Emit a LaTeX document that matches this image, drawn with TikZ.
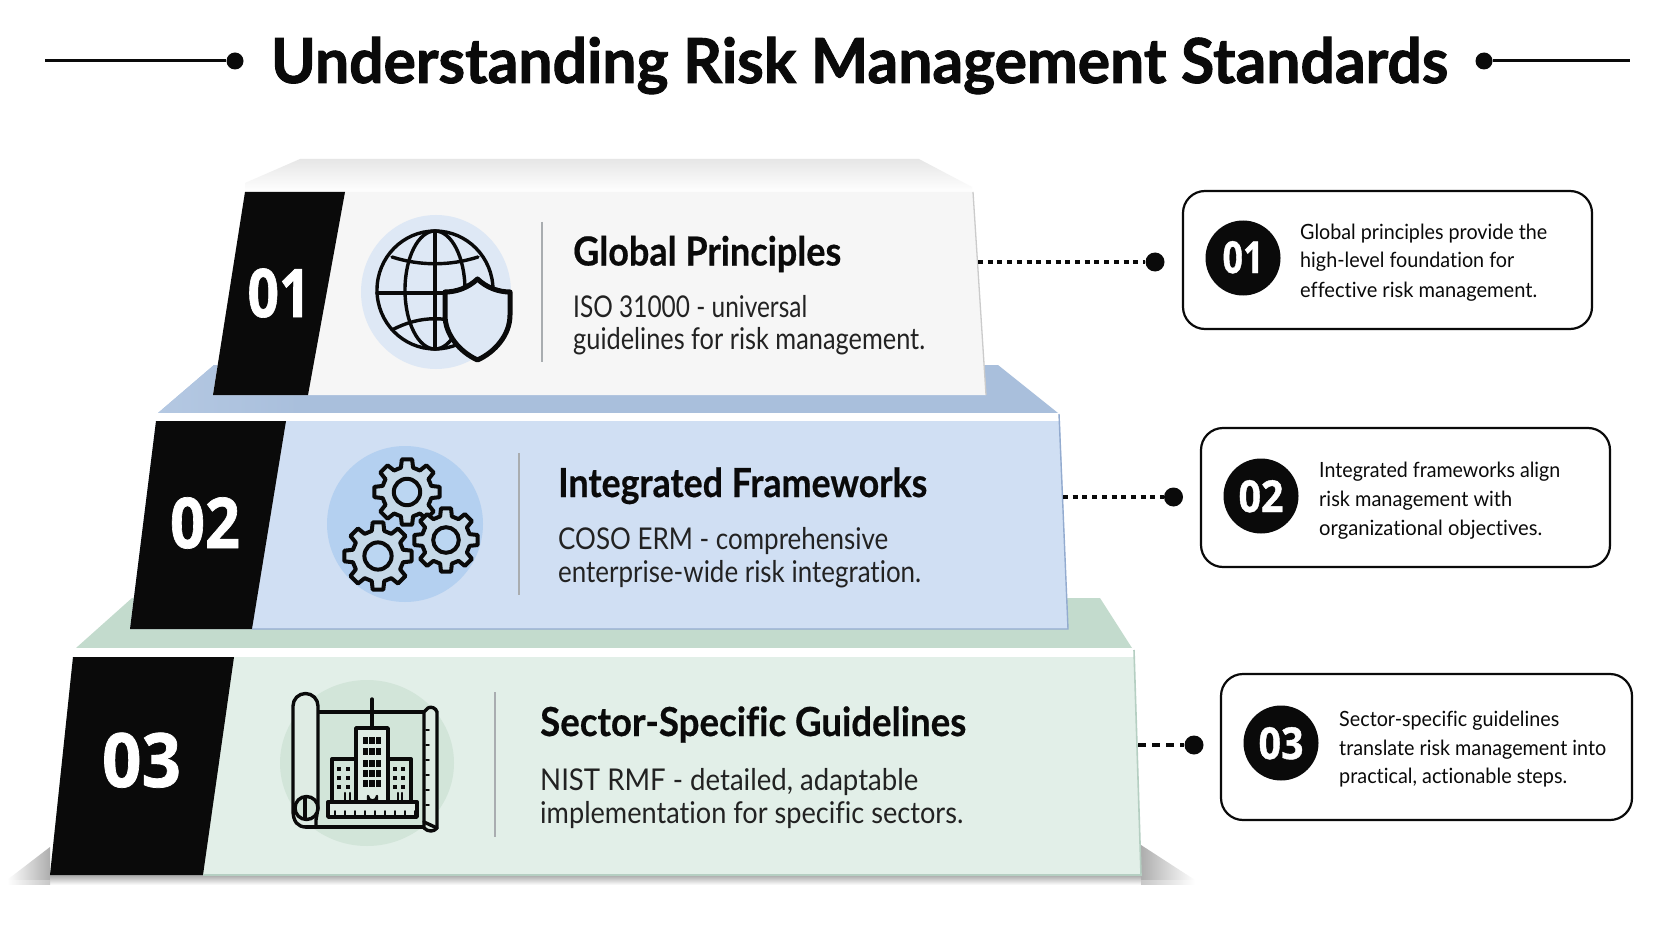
\documentclass[tikz,border=0pt]{standalone}
\usepackage{graphicx}
\usepackage{fontspec}
\setmainfont{Lato}[Ligatures=NoCommon,BoldFeatures={FakeBold=0.5}]
\newfontfamily\titlef{Lato}[Ligatures=NoCommon,BoldFeatures={FakeBold=1.5}]
\newfontfamily\numf{Open Sans}[BoldFeatures={FakeBold=1}]
\usetikzlibrary{calc}
\definecolor{ink}{HTML}{0A0A0A}
\definecolor{rulegray}{HTML}{A9ADB0}
\definecolor{whitefront}{HTML}{F6F6F6}
\definecolor{whitetop}{HTML}{E6E6E6}
\definecolor{whiteedge}{HTML}{CBCBCB}
\definecolor{bluefront}{HTML}{D0DFF3}
\definecolor{bluetop}{HTML}{A9BFDC}
\definecolor{bluetopb}{HTML}{B4C8E2}
\definecolor{blueedge}{HTML}{93ABCF}
\definecolor{greenfront}{HTML}{E2EFE8}
\definecolor{greentop}{HTML}{C3DBCD}
\definecolor{greentopb}{HTML}{C9DFD2}
\definecolor{greenedge}{HTML}{B5CFC2}
\definecolor{globedisc}{HTML}{DEE8F5}
\definecolor{geardisc}{HTML}{B4D0F0}
\definecolor{plandisc}{HTML}{D2E5D9}
\definecolor{planlight}{HTML}{DFECE4}
\definecolor{gearfill}{HTML}{C6D9E8}
\definecolor{gearhub}{HTML}{BBD6F2}
\newcommand{\fitw}[2]{\resizebox{#1pt}{\height}{#2}}
\newcommand{\gearico}[3]{%
 \draw[gearline] ({#1+(#3*.76)*cos(-14)},{#2+(#3*.76)*sin(-14)})
  \foreach \a in {0,45,...,315}{
   -- ({#1+(#3*.76)*cos(\a-14)},{#2+(#3*.76)*sin(\a-14)})
   -- ({#1+#3*cos(\a-9)},{#2+#3*sin(\a-9)})
   -- ({#1+#3*cos(\a+9)},{#2+#3*sin(\a+9)})
   -- ({#1+(#3*.76)*cos(\a+14)},{#2+(#3*.76)*sin(\a+14)})
  } -- cycle;
 \draw[gearline,fill=gearhub] (#1,#2) circle ({#3*.40});
}
\tikzset{
 gearline/.style={draw=ink,line width=4pt,line join=round,fill=gearfill},
 icon/.style={draw=ink,line width=3.4pt,line join=round,line cap=round},
 heading/.style={anchor=base west,inner sep=0pt,font=\fontsize{40}{40}\selectfont\bfseries,text=ink},
 bodytx/.style={anchor=base west,inner sep=0pt,font=\fontsize{30}{30}\selectfont,text=ink!90!white},
 cardtx/.style={anchor=base west,inner sep=0pt,font=\fontsize{21}{21}\selectfont,text=ink},
 bandnum/.style={anchor=base,inner sep=0pt,text=white},
 badgenum/.style={anchor=base,inner sep=0pt,text=white,font=\numf\bfseries\fontsize{44}{44}\selectfont},
 badge/.style={circle,fill=ink,minimum size=75pt,inner sep=0pt},
 card/.style={draw=ink,line width=2.2pt,rounded corners=22pt,fill=white},
 enddot/.style={circle,fill=ink,minimum size=19pt,inner sep=0pt},
 dotted link/.style={draw=ink,line width=3.6pt,dash pattern=on 5pt off 4.7pt},
 dashed link/.style={draw=ink,line width=3.6pt,dash pattern=on 8pt off 6pt},
 divider/.style={draw=rulegray,line width=1.6pt},
 band/.style={fill=ink},
 strip/.style={fill=white},
}
\begin{document}
\begin{tikzpicture}[x=1pt,y=-1pt]
\useasboundingbox (0,0) rectangle (1672,941);
\fill[white] (0,0) rectangle (1672,941);

% title
\node[inner sep=0pt,anchor=base,font=\titlef\fontsize{62}{62}\selectfont\bfseries,text=ink] (title) at (859.5,83) {\fitw{1177}{Understanding Risk Management Standards}};
\node[circle,fill=ink,minimum size=17pt,inner sep=0pt] (tdl) at (235,61) {};
\node[circle,fill=ink,minimum size=17pt,inner sep=0pt] (tdr) at (1484,61) {};
\coordinate (tll) at (45,61);
\coordinate (tlr) at (1630,61);
\draw[ink,line width=3pt] (tll) -- (tdl);
\draw[ink,line width=3pt] (tdr) -- (tlr);

% base shadow
\shade[left color=white,right color=black!32] (7,880) -- (50,847) -- (50,880) -- cycle;
\shade[left color=black!32,right color=white] (1141,845) -- (1195,880) -- (1141,880) -- cycle;
\shade[top color=black!34,bottom color=white] (50,875) rectangle (1141,885);
\shade[left color=white,right color=black!22] (7,880) rectangle (50,884);
\shade[left color=black!22,right color=white] (1141,880) rectangle (1195,884);

% tier 3
\fill[greentop] (132,598) -- (1100,598) -- (1132,648) -- (76,648) -- cycle;
\fill[strip] (76,648) -- (1132,648) -- (1134,657) -- (73,657) -- cycle;
\fill[greenfront] (73,657) -- (1134,657) -- (1141,875) -- (50,875) -- cycle;
\fill[band] (73,657) -- (234,657) -- (203,875) -- (50,875) -- cycle;
\draw[greenedge,line width=1.6pt] (1134,650) -- (1141,875) -- (203,875);

% tier 2
\fill[bluetop] (214,365) -- (998,365) -- (1058,413) -- (158,413) -- cycle;
\shade[left color=bluetopb,right color=bluetop] (214,365) -- (300,365) -- (300,413) -- (158,413) -- cycle;
\fill[strip] (158,413) -- (1058,413) -- (1060,421) -- (156,421) -- cycle;
\fill[bluefront] (156,421) -- (1060,421) -- (1068,629) -- (130,629) -- cycle;
\fill[band] (156,421) -- (286,421) -- (252,629) -- (130,629) -- cycle;
\draw[blueedge,line width=1.4pt] (1059,414) -- (1068,629) -- (252,629);

% tier 1
\shade[top color=whitetop,bottom color=white] (300,159) -- (919,159) -- (972,187) -- (972,192) -- (245,192) -- (245,183) -- cycle;
\fill[whitefront] (245,192) -- (973,192) -- (986,395) -- (213,395) -- cycle;
\fill[band] (245,192) -- (345,192) -- (308,395) -- (213,395) -- cycle;
\draw[whiteedge,line width=1.3pt] (973,192) -- (986,395);

% band numbers
\node[bandnum,font=\numf\bfseries\fontsize{67}{67}\selectfont] (n1) at (279,317) {\fitw{63}{01}};
\node[bandnum,font=\numf\bfseries\fontsize{70}{70}\selectfont] (n2) at (205,548) {\fitw{70}{02}};
\node[bandnum,font=\numf\bfseries\fontsize{75}{75}\selectfont] (n3) at (141.5,787) {\fitw{79}{03}};

% dividers
\draw[divider] (542,222) -- (542,362);
\draw[divider] (519,453) -- (519,595);
\draw[divider] (495,692) -- (495,837);

% tier texts
\node[heading] (h1) at (573,265.5) {\fitw{268}{Global Principles}};
\node[bodytx] (b1a) at (573,317) {\fitw{234}{ISO 31000 - universal}};
\node[bodytx] (b1b) at (573,349) {\fitw{352}{guidelines for risk management.}};
\node[heading] (h2) at (558,497) {\fitw{369}{Integrated Frameworks}};
\node[bodytx] (b2a) at (558,549) {\fitw{330}{COSO ERM - comprehensive}};
\node[bodytx] (b2b) at (558,582) {\fitw{363}{enterprise-wide risk integration.}};
\node[heading] (h3) at (540,736) {\fitw{426}{Sector-Specific Guidelines}};
\node[bodytx] (b3a) at (540,790) {\fitw{378}{NIST RMF - detailed, adaptable}};
\node[bodytx] (b3b) at (540,823) {\fitw{423}{implementation for specific sectors.}};

% globe icon
\fill[globedisc] (436,292) ellipse (75 and 77);
\begin{scope}[icon]
 \draw (435,290) ellipse (58 and 59);
 \draw (435,231) -- (435,349);
 \draw (435,290) ellipse (30 and 59);
 \draw (377,293) -- (493,293);
 \draw (392,257) .. controls (420,266) and (450,266) .. (478,257);
 \draw (392,330) .. controls (420,315) and (450,315) .. (478,330);
\end{scope}
\draw[draw=ink,line width=5pt,line join=round,fill=globedisc]
 (477.5,279) .. controls (468,288) and (456,292) .. (445,292) -- (445,315)
 .. controls (445,335) and (460,352) .. (477.5,360)
 .. controls (495,352) and (510,335) .. (510,315) -- (510,292)
 .. controls (499,292) and (487,288) .. (477.5,279) -- cycle;

% gears icon
\fill[geardisc] (405,524) circle (78);
\gearico{407}{492}{33}
\gearico{378}{556}{34}
\gearico{446}{540}{32}

% blueprint icon
\fill[plandisc] (367,763) ellipse (87 and 83);
\begin{scope}[icon]
 \draw (318,712) -- (425,712);
 \draw[fill=planlight] (318,808) -- (318,706) arc (0:-180:12.5) -- (293,810) .. controls (293,822) and (298,827) .. (306,827) -- (316,827) -- (316,820) -- cycle;
 \draw (306,827) -- (424,827);
 \draw[fill=plandisc] (306.5,808) circle (11.5);
 \draw (305,797) -- (305,819);
 \draw[fill=planlight] (424,712) -- (424,828) .. controls (428,832) and (434,832) .. (437,828) -- (437,712) .. controls (436,708) and (431,706) .. (428,708) -- cycle;
 \draw (424,822) -- (437,828);
 \draw (372,699) -- (372,728);
 \draw[fill=planlight] (356,802) -- (356,728) -- (388,728) -- (388,802);
 \draw (356,759) -- (332,759) -- (332,802);
 \draw (388,759) -- (411,759) -- (411,802);
 \draw[fill=planlight] (328,802) rectangle (417,817);
 \foreach \yy in {737,748,760,770,780} \foreach \xx in {365.5,372,378.5} \fill[ink,draw=none] (\xx-2.6,\yy) rectangle (\xx+2.6,\yy+6.5);
 \foreach \yy in {769,778,787} \foreach \xx in {339,348,395,403} \fill[ink,draw=none] (\xx-2,\yy-2) rectangle (\xx+2,\yy+2);
 \foreach \xx in {335,345,...,415} \draw[line width=1.6pt] (\xx,815) -- (\xx,811);
 \foreach \yy in {730,745,...,805} \draw[line width=1.6pt] (426,\yy) -- (429,\yy);
 \draw[line width=2.4pt] (368,802) -- (368,796) arc (180:0:4.5) -- (377,802);
 \draw[line width=2.4pt] (345,802) -- (345,793);
 \draw[line width=2.4pt] (350,802) -- (350,793);
 \draw[line width=2.4pt] (398,802) -- (398,793);
 \draw[line width=2.4pt] (402,802) -- (402,793);
\end{scope}

% cards
\draw[card] (1183,191) rectangle (1592,329);
\draw[card] (1201,428) rectangle (1610,567);
\draw[card] (1221,674) rectangle (1632,820);
\node[badge] (bd1) at (1243,258) {};
\node[badge] (bd2) at (1261,496) {};
\node[badge] (bd3) at (1281,743) {};
\node[badgenum] (bn1) at (1243,273) {\fitw{41}{01}};
\node[badgenum] (bn2) at (1261,512) {\fitw{45}{02}};
\node[badgenum] (bn3) at (1281,759) {\fitw{45}{03}};

\node[cardtx] (c1a) at (1300,240) {\fitw{247}{Global principles provide the}};
\node[cardtx] (c1b) at (1300,268) {\fitw{214}{high-level foundation for}};
\node[cardtx] (c1c) at (1300,297) {\fitw{237}{effective risk management.}};
\node[cardtx] (c2a) at (1319,477) {\fitw{241}{Integrated frameworks align}};
\node[cardtx] (c2b) at (1319,506) {\fitw{193}{risk management with}};
\node[cardtx] (c2c) at (1319,535) {\fitw{223}{organizational objectives.}};
\node[cardtx] (c3a) at (1339,726) {\fitw{220}{Sector-specific guidelines}};
\node[cardtx] (c3b) at (1339,755) {\fitw{267}{translate risk management into}};
\node[cardtx] (c3c) at (1339,783) {\fitw{228}{practical, actionable steps.}};

% connectors
\node[enddot] (d1) at (1155,262) {};
\node[enddot] (d2) at (1173.5,497) {};
\node[enddot] (d3) at (1194,745) {};
\coordinate (s1) at (978,262);
\coordinate (s2) at (1063,497);
\coordinate (s3) at (1138,745);
\draw[dotted link] (s1) -- (d1);
\draw[dotted link] (s2) -- (d2);
\draw[dashed link] (s3) -- (d3);
\end{tikzpicture}
\end{document}
